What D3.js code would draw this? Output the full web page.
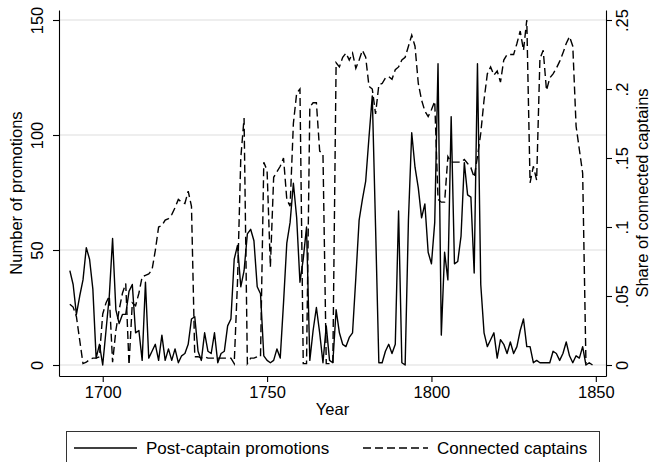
<!DOCTYPE html>
<html>
<head>
<meta charset="utf-8">
<script src="https://cdn.jsdelivr.net/npm/d3@7"></script>
<style>
    body { margin: 0; background: #fff; }
    text { font-family: "Liberation Sans", Arial, sans-serif; font-size: 16.5px; fill: #000; }
</style>
</head>
<body>
<svg id="chart" width="650" height="462"></svg>
<script>
// values, one per year
const promotionYears = d3.range(1690, 1850);
const promotions = [
    41, 35, 22, 30, 37, 51, 46, 33, 3, 9,
    0, 15, 30, 55, 24, 18, 22, 22, 32, 35,
    14, 15, 2, 36, 3, 6, 9, 2, 13, 2,
    7, 2, 7, 1, 4, 5, 9, 20, 21, 6,
    2, 14, 6, 5, 14, 1, 5, 6, 17, 20,
    46, 52, 34, 41, 57, 59, 54, 34, 31, 4,
    2, 1, 2, 7, 3, 27, 53, 62, 79, 64,
    36, 46, 60, 2, 15, 25, 14, 1, 17, 2,
    1, 24, 14, 9, 8, 12, 14, 38, 63, 72,
    80, 99, 117, 60, 1, 1, 6, 9, 5, 9,
    67, 1, 0, 63, 101, 86, 77, 64, 70, 49,
    44, 62, 131, 13, 49, 37, 108, 44, 45, 56,
    88, 74, 73, 40, 131, 35, 14, 8, 11, 14,
    3, 11, 9, 5, 10, 5, 8, 15, 20, 8,
    8, 1, 2, 1, 1, 1, 1, 6, 5, 2,
    5, 10, 4, 1, 4, 3, 8, 0, 1, 0,
];
const shareYears = d3.range(1690, 1848);
const connectedShare = [
    .044, .042, .035, .018, .001, .002, .004, .005, .005, .006,
    .037, .045, .050, .002, .025, .040, .052, .059, .000, .045,
    .043, .052, .064, .065, .066, .069, .083, .100, .101, .105,
    .106, .109, .114, .120, .118, .117, .126, .115, .006, .006,
    .005, .006, .005, .005, .005, .005, .005, .005, .005, .005,
    .001, .060, .150, .179, .001, .005, .005, .006, .006, .147,
    .141, .071, .136, .140, .144, .150, .120, .115, .175, .197,
    .200, .001, .001, .187, .190, .190, .155, .153, .001, .001,
    .001, .219, .216, .223, .226, .221, .226, .215, .221, .228,
    .223, .202, .200, .182, .203, .204, .208, .209, .207, .214,
    .216, .221, .223, .231, .239, .231, .204, .192, .184, .180,
    .185, .191, .120, .118, .118, .151, .147, .147, .147, .147,
    .149, .146, .143, .136, .151, .168, .192, .211, .216, .210,
    .213, .205, .221, .225, .225, .225, .233, .242, .228, .250,
    .132, .144, .134, .222, .228, .199, .208, .211, .215, .220,
    .226, .233, .238, .231, .173, .156, .139, .001,
];
const xTicks = [1700, 1750, 1800, 1850];
const leftTicks = [0, 50, 100, 150];
const rightTicks = [0, 0.05, 0.1, 0.15, 0.2, 0.25];
const rightTickLabels = ['0', '.05', '.1', '.15', '.2', '.25'];
const seriesNames = ['Post-captain promotions', 'Connected captains'];

const plot = { left: 59, right: 606, top: 10, bottom: 376 };
const svg = d3.select('#chart');

const x = d3.scaleLinear().domain([1686.7, 1853.1]).range([plot.left, plot.right]);
const yLeft = d3.scaleLinear().domain([-4.78, 154.35]).range([plot.bottom, plot.top]);
const yRight = d3.scaleLinear().domain([-0.00797, 0.25725]).range([plot.bottom, plot.top]);

// gridlines on the left-axis ticks
svg.append('g')
    .selectAll('line')
    .data(leftTicks)
    .join('line')
    .attr('x1', plot.left)
    .attr('x2', plot.right)
    .attr('y1', (d) => yLeft(d))
    .attr('y2', (d) => yLeft(d))
    .attr('stroke', '#e8e8e8')
    .attr('stroke-width', 1.3);

const styleAxis = (g) => {
    g.select('.domain').attr('stroke', '#000').attr('stroke-width', 1.1);
    g.selectAll('.tick line').attr('stroke', '#000').attr('stroke-width', 1.1);
    g.selectAll('.tick text').attr('fill', '#000').style('font-size', '16.5px');
};

svg.append('g')
    .attr('transform', `translate(0,${plot.bottom})`)
    .call(d3.axisBottom(x).tickValues(xTicks).tickFormat(d3.format('d'))
        .tickSize(6).tickSizeOuter(0))
    .call(styleAxis)
    .call((g) => g.selectAll('.tick text').attr('y', 22).attr('dy', 0));

svg.append('g')
    .attr('transform', `translate(${plot.left},0)`)
    .call(d3.axisLeft(yLeft).tickValues(leftTicks).tickSize(6).tickSizeOuter(0))
    .call(styleAxis)
    .call((g) => g.selectAll('.tick text')
        .attr('transform', 'rotate(-90)')
        .attr('text-anchor', 'middle')
        .attr('x', 0)
        .attr('y', -15.7)
        .attr('dy', 0));

svg.append('g')
    .attr('transform', `translate(${plot.right},0)`)
    .call(d3.axisRight(yRight).tickValues(rightTicks)
        .tickFormat((d, i) => rightTickLabels[i]).tickSize(6).tickSizeOuter(0))
    .call(styleAxis)
    .call((g) => g.selectAll('.tick text')
        .attr('transform', 'rotate(-90)')
        .attr('text-anchor', 'middle')
        .attr('x', 0)
        .attr('y', 22.3)
        .attr('dy', 0));

// axis titles
const midY = (plot.top + plot.bottom) / 2;
svg.append('text')
    .attr('transform', `translate(22,${midY}) rotate(-90)`)
    .attr('text-anchor', 'middle')
    .text('Number of promotions');
svg.append('text')
    .attr('transform', `translate(648,${midY}) rotate(-90)`)
    .attr('text-anchor', 'middle')
    .text('Share of connected captains');
svg.append('text')
    .attr('x', (plot.left + plot.right) / 2)
    .attr('y', 415)
    .attr('text-anchor', 'middle')
    .text('Year');

// series
const promoLine = d3.line()
    .x((d, i) => x(promotionYears[i]))
    .y((d) => yLeft(d));
const shareLine = d3.line()
    .x((d, i) => x(shareYears[i]))
    .y((d) => yRight(d));

svg.append('path')
    .datum(promotions)
    .attr('d', promoLine)
    .attr('fill', 'none')
    .attr('stroke', '#000')
    .attr('stroke-width', 1.4)
    .attr('stroke-linejoin', 'round');

svg.append('path')
    .datum(connectedShare)
    .attr('d', shareLine)
    .attr('fill', 'none')
    .attr('stroke', '#000')
    .attr('stroke-width', 1.4)
    .attr('stroke-dasharray', '8,4');

// legend
const legend = svg.append('g');
legend.append('rect')
    .attr('x', 66.5)
    .attr('y', 431.5)
    .attr('width', 533)
    .attr('height', 34)
    .attr('fill', '#fff')
    .attr('stroke', '#333')
    .attr('stroke-width', 1);

const keys = [
    { x1: 74, x2: 137, tx: 146, dash: null },
    { x1: 363, x2: 428, tx: 437, dash: '8,4' },
];
keys.forEach((k, i) => {
    legend.append('line')
        .attr('x1', k.x1)
        .attr('x2', k.x2)
        .attr('y1', 448)
        .attr('y2', 448)
        .attr('stroke', '#000')
        .attr('stroke-width', 1.4)
        .attr('stroke-dasharray', k.dash);
    legend.append('text')
        .attr('x', k.tx)
        .attr('y', 454)
        .style('font-size', '17px')
        .text(seriesNames[i]);
});
</script>
</body>
</html>
